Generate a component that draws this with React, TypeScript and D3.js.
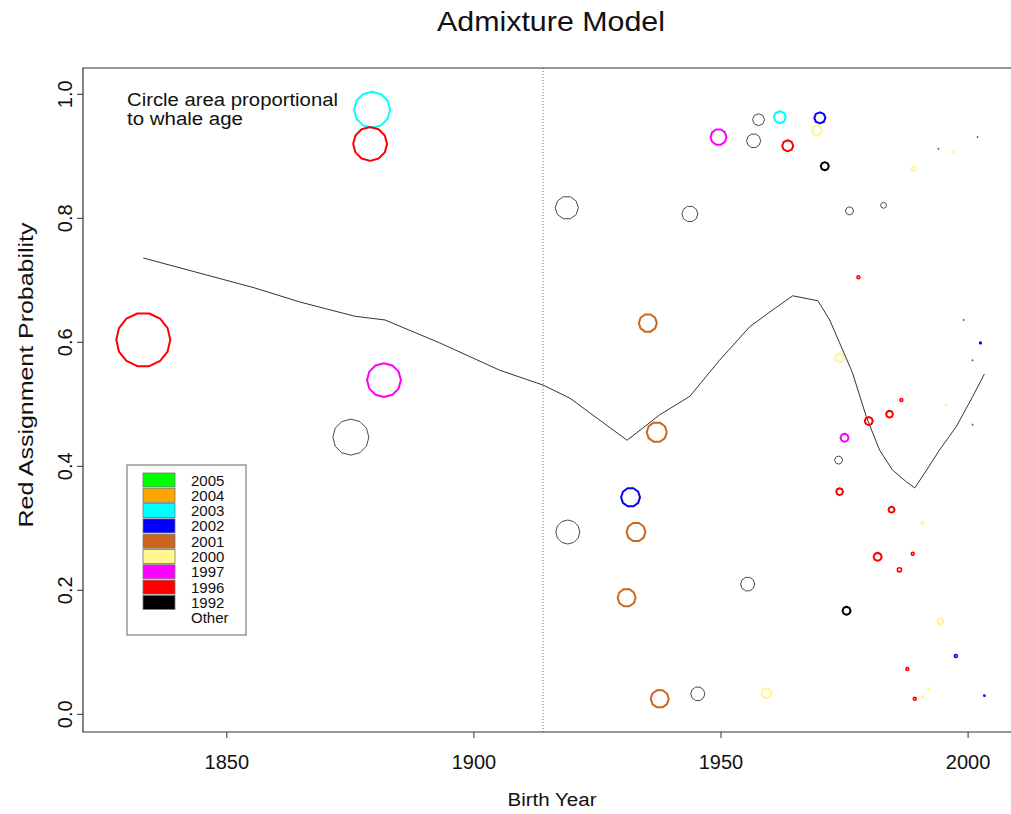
import React from "react";
import * as d3 from "d3";

// Whale records: estimated birth year, probability of assignment to the red group,
// estimated age (circle area) and harvest cohort.
const birthYears = [
  1833.1, 1879.4, 1879.0, 1881.8, 1875.1, 1918.8, 1919.0, 1935.2, 1937.0, 1931.7,
  1932.8, 1930.9, 1937.6, 1943.7, 1949.5, 1945.3, 1955.4, 1957.6, 1956.6, 1961.9,
  1963.5, 1970.0, 1969.4, 1971.0, 1976.0, 1982.9, 1977.8, 1974.0, 1979.9, 1984.1,
  1986.5, 1975.0, 1973.8, 1974.0, 1984.5, 1990.8, 1995.6, 2000.9, 2000.9, 2002.5,
  1999.1, 2001.9, 1994.0, 1997.0, 1989.0, 1981.7, 1988.8, 1986.1, 1975.4, 1994.4,
  1997.5, 1987.7, 1992.0, 1990.8, 1989.2, 2003.3, 1959.2,
];
const redProbability = [
  0.604, 0.975, 0.920, 0.539, 0.447, 0.817, 0.294, 0.631, 0.455, 0.350,
  0.294, 0.188, 0.025, 0.807, 0.931, 0.033, 0.210, 0.959, 0.925, 0.963,
  0.917, 0.962, 0.942, 0.884, 0.812, 0.821, 0.705, 0.575, 0.473, 0.484,
  0.507, 0.446, 0.410, 0.359, 0.330, 0.309, 0.499, 0.467, 0.571, 0.599,
  0.636, 0.931, 0.912, 0.907, 0.880, 0.254, 0.259, 0.233, 0.167, 0.150,
  0.094, 0.073, 0.041, 0.028, 0.025, 0.030, 0.034,
];
const whaleAges = [
  180, 120, 113, 113, 120, 77, 80, 60, 67, 63,
  63, 60, 60, 53, 53, 47, 47, 40, 47, 40,
  37, 37, 33, 27, 27, 20, 13, 30, 27, 23,
  13, 27, 27, 23, 20, 13, 8, 7, 7, 9,
  7, 7, 7, 7, 17, 27, 13, 17, 27, 20,
  13, 13, 10, 10, 13, 7, 33,
];
const cohorts = [
  "1996", "2003", "1996", "1997", "Other", "Other", "Other", "2001", "2001", "2002",
  "2001", "2001", "2001", "Other", "1997", "Other", "Other", "Other", "Other", "2003",
  "1996", "2002", "2000", "1992", "Other", "Other", "1996", "2000", "1996", "1996",
  "1996", "1997", "Other", "1996", "1996", "2000", "2000", "Other", "Other", "2002",
  "Other", "Other", "Other", "2000", "2000", "1996", "1996", "1996", "1992", "2000",
  "2002", "1996", "2000", "2000", "1996", "2002", "2000",
];

// Smoothed trend of the red assignment probability.
const trendYears = [
  1833.1, 1855.5, 1864.8, 1875.9, 1882.0, 1893.1, 1905.2, 1914.0, 1919.4, 1931.0,
  1937.6, 1943.7, 1949.7, 1955.8, 1959.9, 1964.5, 1969.6, 1972.0, 1974.0, 1976.6,
  1979.4, 1982.1, 1984.7, 1987.5, 1989.2, 1991.2, 1994.2, 1997.6, 2000.9, 2003.3,
];
const trendValues = [
  0.736, 0.688, 0.665, 0.642, 0.636, 0.599, 0.555, 0.531, 0.510, 0.442,
  0.483, 0.513, 0.571, 0.625, 0.649, 0.675, 0.667, 0.636, 0.599, 0.551,
  0.480, 0.426, 0.394, 0.375, 0.365, 0.389, 0.426, 0.464, 0.512, 0.549,
];

const markerYear = 1914;

const legendLabels = ["2005", "2004", "2003", "2002", "2001", "2000", "1997", "1996", "1992", "Other"];
const legendColors = ["#00ff00", "#ffa500", "#00ffff", "#0000ff", "#cd661d", "#fff68f", "#ff00ff", "#ff0000", "#000000", "#ffffff"];

const xTicks = [1850, 1900, 1950, 2000];
const yTicks = [0, 0.2, 0.4, 0.6, 0.8, 1.0];

const FONT = "'Liberation Sans', Arial, Helvetica, sans-serif";

// Regular polygon outline, as circles come out of the plotting device.
function polygonPath(cx: number, cy: number, r: number, n: number) {
  const pts: [number, number][] = [];
  for (let i = 0; i < n; i++) {
    const a = (2 * Math.PI * i) / n;
    pts.push([cx + r * Math.cos(a), cy + r * Math.sin(a)]);
  }
  return "M" + pts.map((p) => p[0].toFixed(2) + "," + p[1].toFixed(2)).join("L") + "Z";
}

export default function App() {
  const left = 83, right = 1019, top = 68, bottom = 732;
  const x = d3.scaleLinear().domain([1820.9, 2010.3]).range([left, right]);
  const y = d3.scaleLinear().domain([0, 1]).range([714.3, 94.3]);
  const radius = d3.scaleLinear().domain([0, 180]).range([0, 27]);

  const colorOf = d3.scaleOrdinal<string, string>().domain(legendLabels).range(legendColors);
  const strokeOf = (c: string) => (c === "Other" ? "#4a4a4a" : colorOf(c));

  const line = d3
    .line<number>()
    .x((_, i) => x(trendYears[i]))
    .y((v) => y(v));

  const points = birthYears.map((yr, i) => ({
    cx: x(yr),
    cy: y(redProbability[i]),
    r: radius(whaleAges[i]),
    cohort: cohorts[i],
  }));

  const legendX = 127, legendY = 465, rowH = 15.3;

  return (
    <svg
      width={1011}
      height={814}
      style={{ position: "absolute", left: 0, top: 0, background: "#fff" }}
      fontFamily={FONT}
    >
      <rect x={0} y={0} width={1011} height={814} fill="#fff" />

      <text x={551} y={31} fontSize={28} textAnchor="middle" textLength={228} lengthAdjust="spacingAndGlyphs" fill="#111">
        Admixture Model
      </text>

      {/* vertical reference year */}
      <line x1={x(markerYear)} x2={x(markerYear)} y1={top} y2={bottom} stroke="#777" strokeWidth={1} strokeDasharray="1,2" />

      {/* trend */}
      <path d={line(trendValues) || ""} fill="none" stroke="#333" strokeWidth={1} />

      {/* whale circles */}
      {points.map((p, i) => {
        const col = strokeOf(p.cohort);
        const sw = p.cohort === "Other" ? 1 : 2;
        if (p.r < 3) {
          return <circle key={i} cx={p.cx} cy={p.cy} r={Math.max(p.r - 0.5, 0.6)} fill="none" stroke={col} strokeWidth={sw === 1 ? 1 : 1.6} />;
        }
        const n = p.r >= 20 ? 14 : p.r >= 12 ? 12 : p.r >= 7 ? 10 : 8;
        return <path key={i} d={polygonPath(p.cx, p.cy, p.r, n)} fill="none" stroke={col} strokeWidth={sw} strokeLinejoin="round" />;
      })}

      {/* plot frame */}
      <path d={`M${right},${top}H${left}V${bottom}H${right}`} fill="none" stroke="#333" strokeWidth={1.2} />

      {/* x axis */}
      {xTicks.map((t) => (
        <g key={t}>
          <line x1={x(t)} x2={x(t)} y1={bottom} y2={bottom + 6} stroke="#333" />
          <text x={x(t)} y={769} fontSize={20} textAnchor="middle" fill="#111">
            {t}
          </text>
        </g>
      ))}
      <text x={552} y={806} fontSize={18} textAnchor="middle" textLength={89} lengthAdjust="spacingAndGlyphs" fill="#111">
        Birth Year
      </text>

      {/* y axis */}
      {yTicks.map((t) => (
        <g key={t}>
          <line x1={left - 6} x2={left} y1={y(t)} y2={y(t)} stroke="#333" />
          <text
            transform={`translate(72,${y(t)}) rotate(-90)`}
            fontSize={20}
            textAnchor="middle"
            fill="#111"
          >
            {t.toFixed(1)}
          </text>
        </g>
      ))}
      <text
        transform={`translate(33,375) rotate(-90)`}
        fontSize={21}
        textAnchor="middle"
        textLength={305}
        lengthAdjust="spacingAndGlyphs"
        fill="#111"
      >
        Red Assignment Probability
      </text>

      {/* note */}
      <text x={127} y={106} fontSize={18} textLength={211} lengthAdjust="spacingAndGlyphs" fill="#111">
        Circle area proportional
      </text>
      <text x={127} y={125} fontSize={18} textLength={116} lengthAdjust="spacingAndGlyphs" fill="#111">
        to whale age
      </text>

      {/* legend */}
      <rect x={legendX} y={legendY} width={119} height={170} fill="#fff" stroke="#666" strokeWidth={1} />
      {legendLabels.map((lab, i) => {
        const cy = legendY + 15 + i * rowH;
        return (
          <g key={lab}>
            <rect
              x={143}
              y={cy - 7}
              width={32}
              height={14}
              fill={colorOf(lab)}
              stroke={lab === "Other" ? "none" : "#777"}
              strokeWidth={0.8}
            />
            <text x={191} y={cy + 5.5} fontSize={15} fill="#111">
              {lab}
            </text>
          </g>
        );
      })}
    </svg>
  );
}
